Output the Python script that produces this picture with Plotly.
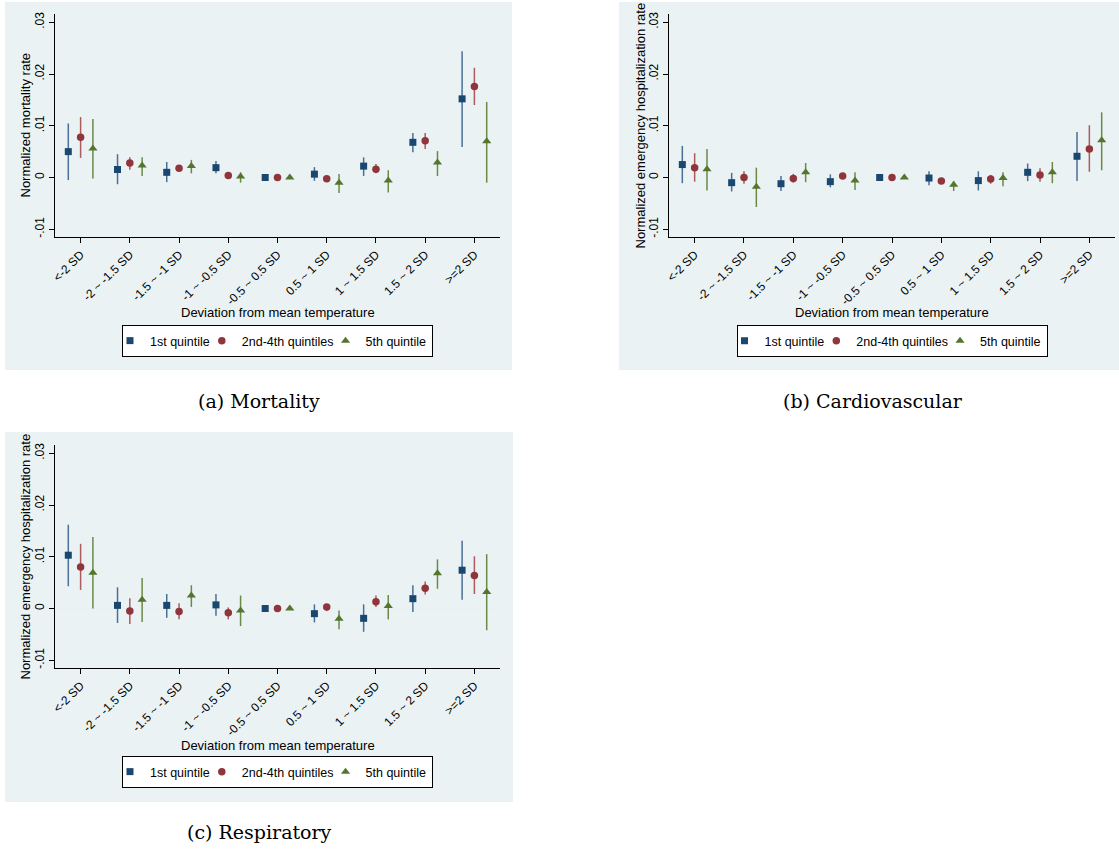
import plotly.graph_objects as go

W, H = 1119, 849

categories = ["&lt;-2 SD", "-2 ~ -1.5 SD", "-1.5 ~ -1 SD", "-1 ~ -0.5 SD", "-0.5 ~ 0.5 SD",
              "0.5 ~ 1 SD", "1 ~ 1.5 SD", "1.5 ~ 2 SD", "&gt;=2 SD"]
series_names = ["1st quintile", "2nd-4th quintiles", "5th quintile"]
ytick_vals = [-0.01, 0, 0.01, 0.02, 0.03]
ytick_text = ["-.01", "0", ".01", ".02", ".03"]
x_title = "Deviation from mean temperature"

# ---- (a) Mortality ----
mort_q1 = [0.0050, 0.00155, 0.0010, 0.0019, 0.0, 0.00065, 0.0022, 0.0068, 0.0152]
mort_q1_hi = [0.01045, 0.0045, 0.0030, 0.0032, 0.0, 0.0020, 0.0039, 0.0086, 0.0244]
mort_q1_lo = [-0.0005, -0.0013, -0.0009, 0.0008, 0.0, -0.00065, 0.0003, 0.0049, 0.0059]
mort_q24 = [0.0078, 0.0028, 0.0018, 0.0004, 0.0, -0.00025, 0.0016, 0.0071, 0.0176]
mort_q24_hi = [0.01168, 0.0039, 0.0023, 0.0008, 0.0, 0.0001, 0.0026, 0.0086, 0.0212]
mort_q24_lo = [0.0038, 0.0015, 0.0013, 0.0, 0.0, -0.0006, 0.0008, 0.0055, 0.0140]
mort_q5 = [0.0056, 0.0023, 0.0022, 0.0002, 0.0, -0.0010, -0.0006, 0.0029, 0.0070]
mort_q5_hi = [0.0113, 0.0039, 0.0034, 0.0010, 0.0, 0.0007, 0.0014, 0.0051, 0.0146]
mort_q5_lo = [-0.0002, 0.0003, 0.0008, -0.0010, 0.0, -0.0030, -0.0029, 0.0003, -0.0010]

# ---- (b) Cardiovascular ----
cardio_q1 = [0.0025, -0.0010, -0.0012, -0.0008, 0.0, -0.0001, -0.0006, 0.0010, 0.0041]
cardio_q1_hi = [0.0061, 0.0009, 0.0003, 0.0006, 0.0, 0.0012, 0.0012, 0.0027, 0.0088]
cardio_q1_lo = [-0.0011, -0.0027, -0.0026, -0.0019, 0.0, -0.0015, -0.0025, -0.0007, -0.0007]
cardio_q24 = [0.0019, 0.0, -0.0002, 0.0003, 0.0, -0.0007, -0.0003, 0.0005, 0.0055]
cardio_q24_hi = [0.0047, 0.0012, 0.0007, 0.0008, 0.0, -0.0002, 0.0005, 0.0018, 0.0101]
cardio_q24_lo = [-0.0008, -0.0012, -0.0010, -0.0002, 0.0, -0.0012, -0.0012, -0.0008, 0.0011]
cardio_q5 = [0.0016, -0.0018, 0.0010, -0.0006, 0.0, -0.0014, -0.0001, 0.0010, 0.0072]
cardio_q5_hi = [0.0055, 0.0019, 0.0028, 0.0010, 0.0, -0.0007, 0.0010, 0.0030, 0.0126]
cardio_q5_lo = [-0.0025, -0.0057, -0.0009, -0.0024, 0.0, -0.0026, -0.0017, -0.0011, 0.0014]

# ---- (c) Respiratory ----
resp_q1 = [0.0103, 0.0006, 0.0006, 0.0007, 0.0, -0.0010, -0.0019, 0.0019, 0.0074]
resp_q1_hi = [0.0162, 0.0041, 0.0028, 0.0028, 0.0, 0.0008, 0.0008, 0.0045, 0.0131]
resp_q1_lo = [0.0043, -0.0028, -0.0018, -0.0014, 0.0, -0.0027, -0.0045, -0.0007, 0.0017]
resp_q24 = [0.0080, -0.0005, -0.0006, -0.0008, 0.0, 0.0003, 0.0013, 0.0039, 0.0064]
resp_q24_hi = [0.0125, 0.0020, 0.0010, 0.0002, 0.0, 0.0007, 0.0025, 0.0052, 0.0101]
resp_q24_lo = [0.0036, -0.0030, -0.0021, -0.0021, 0.0, -0.0005, 0.0003, 0.0027, 0.0028]
resp_q5 = [0.0069, 0.0017, 0.0025, -0.0004, 0.0, -0.0020, 0.0005, 0.0068, 0.0032]
resp_q5_hi = [0.0138, 0.0059, 0.0045, 0.0025, 0.0, -0.0004, 0.0026, 0.0095, 0.0105]
resp_q5_lo = [0.0, -0.0026, 0.0003, -0.0034, 0.0, -0.0040, -0.0021, 0.0038, -0.0042]

panels = [
    dict(title="Normalized mortality rate", caption="(a) Mortality",
         data=[(mort_q1, mort_q1_lo, mort_q1_hi), (mort_q24, mort_q24_lo, mort_q24_hi),
               (mort_q5, mort_q5_lo, mort_q5_hi)]),
    dict(title="Normalized emergency hospitalization rate", caption="(b) Cardiovascular",
         data=[(cardio_q1, cardio_q1_lo, cardio_q1_hi), (cardio_q24, cardio_q24_lo, cardio_q24_hi),
               (cardio_q5, cardio_q5_lo, cardio_q5_hi)]),
    dict(title="Normalized emergency hospitalization rate", caption="(c) Respiratory",
         data=[(resp_q1, resp_q1_lo, resp_q1_hi), (resp_q24, resp_q24_lo, resp_q24_hi),
               (resp_q5, resp_q5_lo, resp_q5_hi)]),
]

# ---- styling / layout (pixels) ----
colors = ["#1a476f", "#90353b", "#55752f"]
ci_colors = ["#4a6f98", "#ad5a60", "#6b8a48"]
symbols = ["square", "circle", "triangle-up"]
msizes = [7, 7.5, 8]
offsets = [-0.25, 0.0, 0.25]
BG = "#EAF2F3"
FONT = "Liberation Sans, Arial, sans-serif"

# plot area (l, t, r, b), background (l, t, r, b), y-title x, x-title y, legend y, caption center
geo = [
    dict(plot=(55, 14, 500, 237), bg=(5, 2, 512, 370), ytx=25, xty=313, leg=341, cap=(259, 401)),
    dict(plot=(669, 14, 1115, 237), bg=(619, 2, 1119, 370), ytx=640, xty=313, leg=341, cap=(873, 401)),
    dict(plot=(55, 445, 500, 668), bg=(5, 432, 513, 802), ytx=25, xty=745, leg=772, cap=(259, 832)),
]

def px(xp):
    return xp / W

def py(yp):
    return 1 - yp / H

fig = go.Figure()
shapes = []
annotations = []
n = len(categories)
txtfont = dict(family=FONT, size=13, color="black")

for p, (panel, g) in enumerate(zip(panels, geo)):
    sfx = "" if p == 0 else str(p + 1)
    xa, ya = "x" + sfx, "y" + sfx
    lg = "legend" + sfx
    for s in range(3):
        vals, lo, hi = panel["data"][s]
        xs = [i + offsets[s] for i in range(n)]
        fig.add_trace(go.Scatter(
            x=xs, y=vals, mode="markers", name=series_names[s],
            xaxis=xa, yaxis=ya, legend=lg,
            marker=dict(symbol=symbols[s], size=msizes[s], color=colors[s], line=dict(width=0)),
            error_y=dict(type="data", symmetric=False,
                         array=[h - v for h, v in zip(hi, vals)],
                         arrayminus=[v - l for v, l in zip(vals, lo)],
                         color=ci_colors[s], thickness=1.5, width=0),
            hoverinfo="skip",
        ))
    L, T, R, B = g["plot"]
    axkey = "xaxis" + sfx
    aykey = "yaxis" + sfx
    fig.update_layout(**{
        axkey: dict(domain=[px(L), px(R)], anchor=ya, range=[-0.52, n - 0.48],
                    automargin=False,
                    tickvals=list(range(n)), ticktext=categories, tickangle=-45,
                    showline=True, linecolor="black", linewidth=1, mirror=False,
                    ticks="outside", ticklen=5, tickcolor="black", showgrid=False, zeroline=False,
                    tickfont=dict(family=FONT, size=12, color="black")),
        aykey: dict(domain=[py(B), py(T)], anchor=xa, range=[-0.0115, 0.0316],
                    automargin=False,
                    tickvals=ytick_vals, ticktext=ytick_text, tickangle=-90,
                    showline=True, linecolor="black", linewidth=1,
                    ticks="outside", ticklen=5, tickcolor="black",
                    showgrid=True, gridcolor="#E9F0F2", gridwidth=1, zeroline=False,
                    tickfont=dict(family=FONT, size=12, color="black")),
        lg: dict(orientation="h", x=px((L + R) / 2), xanchor="center",
                 y=py(g["leg"]), yanchor="middle", bgcolor="white", bordercolor="black",
                 borderwidth=1, font=dict(family=FONT, size=12.5, color="black"),
                 itemwidth=30, tracegroupgap=0, indentation=-13),
    })
    bl, bt, br, bb = g["bg"]
    shapes.append(dict(type="rect", xref="paper", yref="paper", x0=px(bl), x1=px(br),
                       y0=py(bb), y1=py(bt), fillcolor=BG, line=dict(width=0), layer="below"))
    shapes.append(dict(type="line", xref=xa + " domain", yref=ya, x0=0, x1=1, y0=0, y1=0,
                       line=dict(color="black", width=1, dash="6px,3px"), layer="below"))
    # axis titles
    annotations.append(dict(text=x_title, xref="paper", yref="paper",
                            x=px((L + R) / 2), y=py(g["xty"]), xanchor="center", yanchor="middle",
                            showarrow=False, font=txtfont))
    annotations.append(dict(text=panel["title"], xref="paper", yref="paper", textangle=-90,
                            x=px(g["ytx"]), y=py((T + B) / 2), xanchor="center", yanchor="middle",
                            showarrow=False, font=txtfont))
    cx, cy = g["cap"]
    annotations.append(dict(text=panel["caption"], xref="paper", yref="paper",
                            x=px(cx), y=py(cy), xanchor="center", yanchor="middle",
                            showarrow=False,
                            font=dict(family="DejaVu Serif, serif", size=19, color="black")))

fig.update_layout(
    template="none",
    width=W, height=H, margin=dict(l=0, r=0, t=0, b=0, autoexpand=False),
    paper_bgcolor="white", plot_bgcolor="white",
    shapes=shapes, annotations=annotations,
    font=dict(family=FONT, color="black"),
)

fig.write_html("out.html", config={"displayModeBar": False},
               post_script="document.body.style.margin='0';")
